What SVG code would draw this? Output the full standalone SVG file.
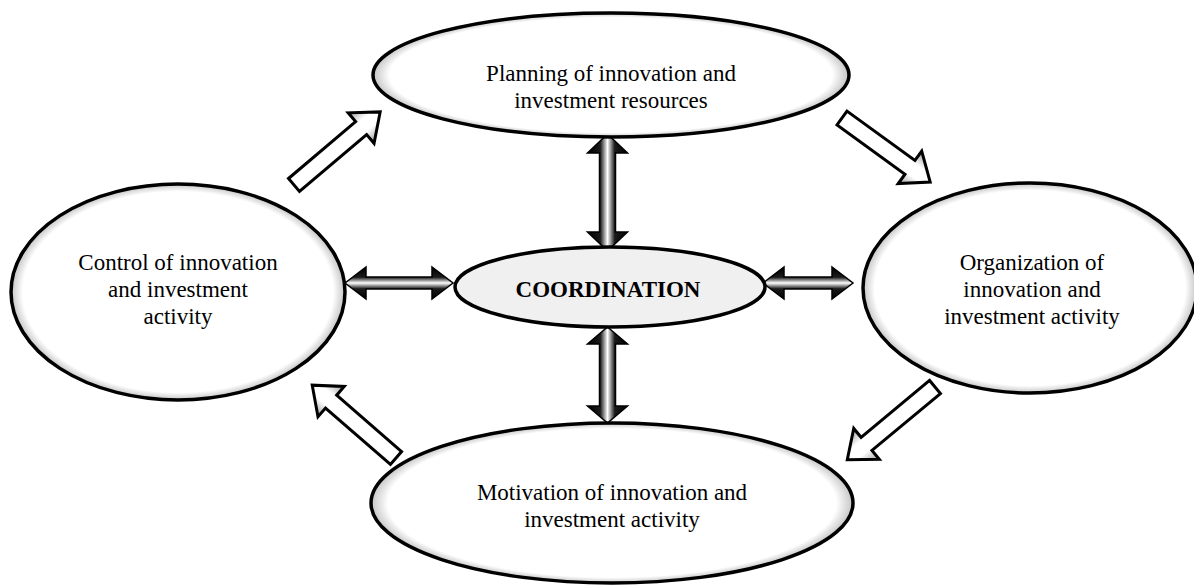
<svg xmlns="http://www.w3.org/2000/svg" width="1194" height="587" viewBox="0 0 1194 587">
  <style>
    .node { fill: url(#nodeFill); stroke: #000; stroke-width: 3.5; }
    .core { fill: #f0f0f0; stroke: #000; stroke-width: 3.5; }
    .lbl { font-family: "Liberation Serif", "Times New Roman", serif; font-size: 23px; fill: #000; text-anchor: middle; }
    .bold { font-weight: bold; }
    .flow { fill: url(#flowFill); stroke: #000; stroke-width: 3; stroke-linejoin: miter; }
    .link { fill: url(#linkFill); stroke: #000; stroke-width: 1.5; stroke-linejoin: miter; }
  </style>
  <defs>
    <radialGradient id="nodeFill" cx="0.5" cy="0.5" r="0.5">
      <stop offset="0" stop-color="#fff"/>
      <stop offset="0.93" stop-color="#fff"/>
      <stop offset="1" stop-color="#c4c4c4"/>
    </radialGradient>
    <linearGradient id="flowFill" x1="0" y1="0" x2="0" y2="1">
      <stop offset="0" stop-color="#9a9a9a"/>
      <stop offset="0.35" stop-color="#ffffff"/>
      <stop offset="0.65" stop-color="#ffffff"/>
      <stop offset="1" stop-color="#9a9a9a"/>
    </linearGradient>
    <linearGradient id="linkFill" x1="0" y1="0" x2="0" y2="1">
      <stop offset="0" stop-color="#000"/>
      <stop offset="0.32" stop-color="#1a1a1a"/>
      <stop offset="0.5" stop-color="#fff"/>
      <stop offset="0.68" stop-color="#1a1a1a"/>
      <stop offset="1" stop-color="#000"/>
    </linearGradient>
  </defs>

  <rect width="1194" height="587" fill="#fff"/>

  <!-- cycle arrows and links to the core -->
  <g id="connectors">
    <!-- single block arrows, drawn from tail (0,0) along +x -->
    <path class="flow" transform="translate(294,185) rotate(-40.3)" d="M0,-8.5 H88 V-20 L113,0 L88,20 V8.5 H0 Z"/>
    <path class="flow" transform="translate(842,118) rotate(36)" d="M0,-8.5 H84 V-20 L109,0 L84,20 V8.5 H0 Z"/>
    <path class="flow" transform="translate(935,387) rotate(140.3)" d="M0,-8.5 H89 V-20 L114,0 L89,20 V8.5 H0 Z"/>
    <path class="flow" transform="translate(396,458) rotate(-139)" d="M0,-8.5 H86 V-20 L111,0 L86,20 V8.5 H0 Z"/>
    <!-- double-headed links -->
    <path class="link" transform="translate(345,283)" d="M0,0 L21,-16 V-6 H87 V-16 L108,0 L87,16 V6 H21 V16 Z"/>
    <path class="link" transform="translate(763,283)" d="M0,0 L21,-16 V-6 H69 V-16 L90,0 L69,16 V6 H21 V16 Z"/>
    <path class="link" transform="translate(607.5,134) rotate(90)" d="M0,0 L19,-20 V-8 H98 V-20 L117,0 L98,20 V8 H19 V20 Z"/>
    <path class="link" transform="translate(607.5,327) rotate(90)" d="M0,0 L17,-20 V-8 H79 V-20 L96,0 L79,20 V8 H17 V20 Z"/>
  </g>

  <g id="planning">
    <ellipse class="node" cx="611" cy="75" rx="238" ry="62"/>
    <text class="lbl" x="611" y="81">Planning of innovation and</text>
    <text class="lbl" x="611" y="108">investment resources</text>
  </g>

  <g id="organization">
    <ellipse class="node" cx="1030" cy="288" rx="167" ry="105"/>
    <text class="lbl" x="1032" y="270">Organization of</text>
    <text class="lbl" x="1032" y="297">innovation and</text>
    <text class="lbl" x="1032" y="324">investment activity</text>
  </g>

  <g id="motivation">
    <ellipse class="node" cx="612" cy="503" rx="241" ry="80"/>
    <text class="lbl" x="612" y="500">Motivation of innovation and</text>
    <text class="lbl" x="612" y="527">investment activity</text>
  </g>

  <g id="control">
    <ellipse class="node" cx="178" cy="292" rx="167" ry="108"/>
    <text class="lbl" x="178" y="270">Control of innovation</text>
    <text class="lbl" x="178" y="297">and investment</text>
    <text class="lbl" x="178" y="324">activity</text>
  </g>

  <g id="coordination">
    <ellipse class="core" cx="610" cy="287" rx="155" ry="40"/>
    <text class="lbl bold" x="608" y="297">COORDINATION</text>
  </g>
</svg>
